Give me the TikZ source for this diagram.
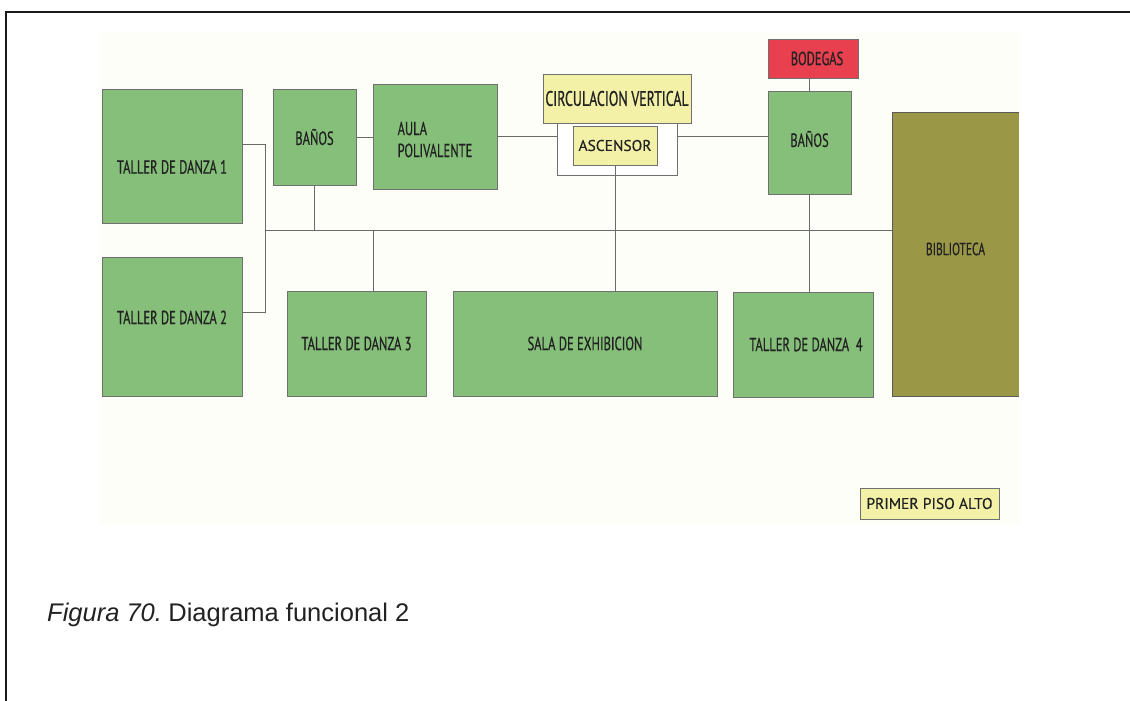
\documentclass[tikz,border=0pt]{standalone}
\usepackage{fontspec}
\setmainfont{Liberation Sans}
\newfontfamily\condfont[FakeStretch=0.66, FakeBold=0.6]{PT Sans}
\newfontfamily\plainfont[FakeBold=0.3]{PT Sans}
\usetikzlibrary{calc}
\definecolor{roomgreen}{HTML}{85BF79}
\definecolor{roomred}{HTML}{E8404F}
\definecolor{roomyellow}{HTML}{F3F0A8}
\definecolor{roomolive}{HTML}{9A9747}
\definecolor{boxline}{HTML}{707070}
\definecolor{linkgray}{HTML}{6A6A6A}
\definecolor{ink}{HTML}{222222}
\definecolor{paper}{HTML}{FEFEF9}
\begin{document}
\begin{tikzpicture}[x=1pt,y=-1pt,
  roomtext/.style={text=ink, font=\condfont\fontsize{19}{21}\selectfont, inner sep=0pt},
  room/.style={draw=boxline, line width=0.9pt, inner sep=0pt, outer sep=0pt,
    roomtext, align=center},
  green room/.style={room, fill=roomgreen},
  yellow room/.style={room, fill=roomyellow},
  link/.style={draw=linkgray, line width=1pt}]
\useasboundingbox (0,0) rectangle (1130,701);
\fill[white] (0,0) rectangle (1130,701);
% faint sheet behind the plan
\fill[paper] (100,33) rectangle (1020,525);
% page frame
\draw[line width=2.2pt, black!90] (6,701) -- (6,12) -- (1130,12);

% rooms
\node[green room, minimum width=140pt, minimum height=134pt,
  label={[roomtext, name=t1txt, yshift=-11pt]center:TALLER DE DANZA 1}] (t1) at (172,156) {};
\node[green room, minimum width=83pt, minimum height=96pt] (b1) at (314.5,137) {BAÑOS};
\node[green room, minimum width=124pt, minimum height=105pt,
  label={[roomtext, name=aulatxt, align=left, yshift=-3pt]center:{AULA\\[1pt]POLIVALENTE}}]
  (aula) at (435,136.5) {};
\node[room, fill=white, minimum width=120pt, minimum height=52pt] (outer) at (617,149) {};
\node[yellow room, minimum width=148pt, minimum height=49pt,
  font=\condfont\fontsize{21}{24}\selectfont] (circ) at (617,98.5) {CIRCULACION VERTICAL};
\node[yellow room, minimum width=84pt, minimum height=39pt,
  font=\plainfont\fontsize{15.5}{18}\selectfont] (asc) at (615,145.5) {ASCENSOR};
\node[room, fill=roomred, minimum width=90pt, minimum height=39pt] (bod) at (813,58.5)
  {\hspace*{8pt}BODEGAS};
\node[green room, minimum width=83pt, minimum height=103pt,
  label={[roomtext, name=b2txt, yshift=3.5pt]center:BAÑOS}] (b2) at (809.5,142.5) {};
\node[room, fill=roomolive, draw=none, minimum width=127pt, minimum height=284pt,
  label={[roomtext, name=bibtxt, yshift=5pt, font=\condfont\fontsize{17.5}{20}\selectfont]center:BIBLIOTECA}]
  (bib) at (955.5,254) {};
\draw[boxline!80!black, line width=1pt] (bib.north east) -- (bib.north west)
  -- (bib.south west) -- (bib.south east);
\node[green room, minimum width=140pt, minimum height=139pt,
  label={[roomtext, name=t2txt, yshift=9pt]center:TALLER DE DANZA 2}] (t2) at (172,326.5) {};
\node[green room, minimum width=139pt, minimum height=105pt] (t3) at (356.5,343.5)
  {TALLER DE DANZA 3};
\node[green room, minimum width=264pt, minimum height=105pt] (sala) at (585,343.5)
  {SALA DE EXHIBICION};
\node[green room, minimum width=140pt, minimum height=105pt,
  label={[roomtext, name=t4txt, xshift=3pt]center:TALLER DE DANZA\ \ 4}] (t4) at (803,344.5) {};
\node[yellow room, minimum width=139pt, minimum height=31pt,
  font=\plainfont\fontsize{15.5}{18}\selectfont] (piso) at (929.5,503.5) {PRIMER PISO ALTO};

% connectors
\coordinate (spineTop) at ($(t1.east)+(23,-12)$);
\coordinate (spineBot) at ($(t2.east)+(23,-14.5)$);
\coordinate (busL) at (265,230);
\draw[link] ([yshift=12pt]t1.east) -- (spineTop) -- (spineBot) -- ([yshift=14.5pt]t2.east);
\draw[link] (busL) -- ([yshift=24pt]bib.west);
\draw[link] (b1.south) -- (b1.south |- busL);
\draw[link] ([xshift=16.5pt]t3.north) -- ([xshift=16.5pt]t3.north |- busL);
\draw[link] (b1.east) -- (b1.east -| aula.west);
\draw[link] (aula.east) -- (aula.east -| outer.west);
\draw[link] (aula.east -| outer.east) -- (aula.east -| b2.west);
\draw[link] (asc.south) -- (asc.south |- sala.north);
\draw[link] (b2.south) -- (b2.south |- t4.north);
\draw[link] (b2.north) -- (b2.north |- bod.south);

% caption
\node[anchor=base west, inner sep=0pt, text=ink, font=\fontsize{25.5}{30}\selectfont]
  (cap) at (47,621) {\textit{Figura 70.}\hspace{0.25em}Diagrama funcional 2};
\end{tikzpicture}
\end{document}
